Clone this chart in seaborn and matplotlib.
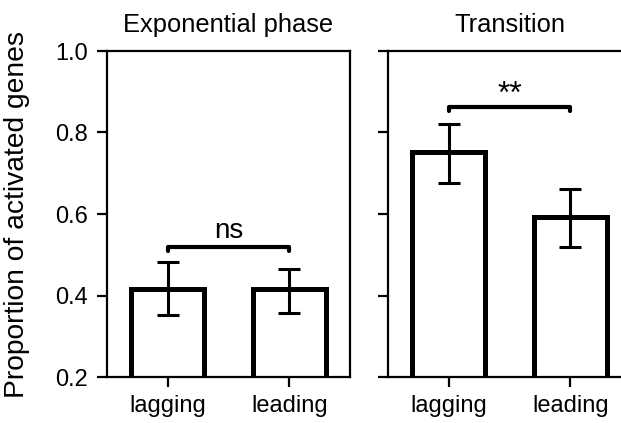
import matplotlib
matplotlib.use("Agg")
import matplotlib.pyplot as plt
import seaborn as sns
import pandas as pd

sns.set_style("ticks")
plt.rcParams['font.family'] = ['Liberation Sans', 'DejaVu Sans']
plt.rcParams['text.color'] = 'black'

categories = ["lagging", "leading"]
panels = ["Exponential phase", "Transition"]
exp_means = [0.417, 0.415]
exp_lo = [0.353, 0.358]
exp_hi = [0.481, 0.466]
tr_means = [0.751, 0.593]
tr_lo = [0.676, 0.520]
tr_hi = [0.821, 0.661]
sig_labels = ["ns", "**"]
sig_heights = [0.520, 0.863]
yticks = [0.2, 0.4, 0.6, 0.8, 1.0]

W, H = 621, 423
fig = plt.figure(figsize=(W / 100, H / 100), dpi=100)
axw = 243 / W
axh = 326 / H
bottom = (H - 377) / H
ax1 = fig.add_axes([107 / W, bottom, axw, axh])
ax2 = fig.add_axes([388 / W, bottom, axw, axh])

data = [(exp_means, exp_lo, exp_hi), (tr_means, tr_lo, tr_hi)]
sig_sizes = [20, 23]
sig_offsets = [0.022, 0.010]
for i, (ax, (m, lo, hi)) in enumerate(zip([ax1, ax2], data)):
    df = pd.DataFrame({"cat": categories, "val": m})
    sns.barplot(data=df, x="cat", y="val", ax=ax, color="white",
                edgecolor="black", linewidth=3.6, errorbar=None, width=0.6,
                saturation=1)
    for b in ax.patches:
        b.set_facecolor("white")
        b.set_clip_on(True)
    xs = list(range(len(categories)))
    yerr = [[mm - l for mm, l in zip(m, lo)], [h - mm for mm, h in zip(m, hi)]]
    ax.errorbar(xs, m, yerr=yerr, fmt="none", ecolor="black", elinewidth=2.2,
                capsize=8, capthick=2.2, zorder=5)
    y = sig_heights[i]
    ax.plot([0, 0, 1, 1], [y - 0.010, y, y, y - 0.010], color="black",
            lw=3.0, solid_capstyle="round", solid_joinstyle="round", zorder=5)
    ax.text(0.5, y + sig_offsets[i], sig_labels[i], ha="center", va="baseline",
            fontsize=sig_sizes[i], color="black")
    ax.set_xlim(-0.5, 1.5)
    ax.set_ylim(0.2, 1.0)
    ax.set_yticks(yticks)
    ax.set_xlabel("")
    ax.set_ylabel("")
    ax.set_title(panels[i], fontsize=18.4, pad=13.5, color="black")
    for s in ax.spines.values():
        s.set_visible(True)
        s.set_linewidth(1.6)
        s.set_color("black")
    ax.tick_params(axis="both", direction="out", length=7, width=1.6,
                   labelsize=17, colors="black")
    ax.tick_params(axis="x", pad=6)
    ax.tick_params(axis="y", pad=7)

ax1.set_yticklabels([f"{t:.1f}" for t in yticks])
ax2.set_yticklabels([])
ax1.set_ylabel("Proportion of activated genes", fontsize=20.3, color="black")
ax1.yaxis.set_label_coords(-(107 - 30) / 243, 0.5)

fig.savefig("out.png", dpi=100, facecolor="white")
